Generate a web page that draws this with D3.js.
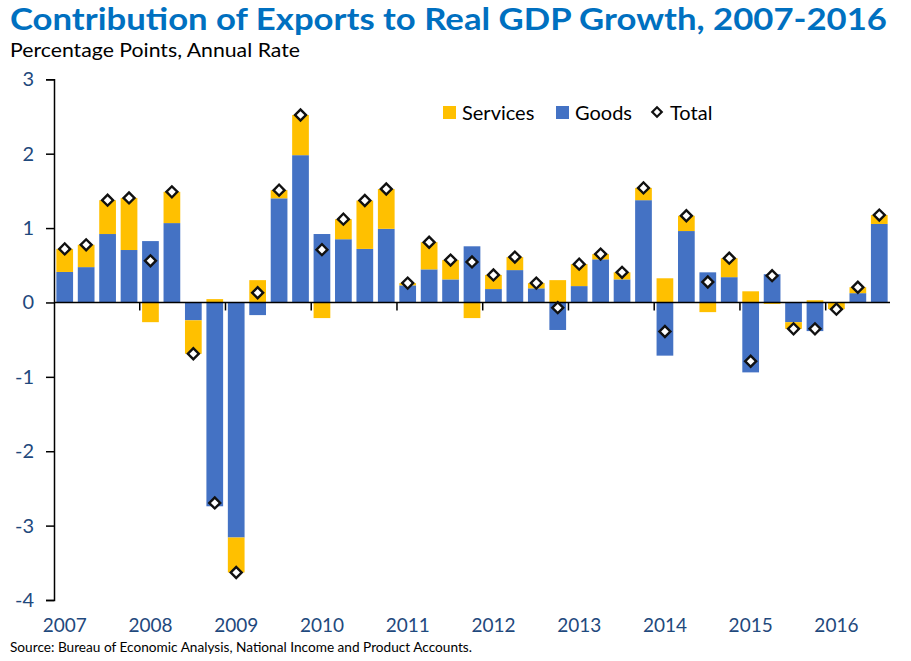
<!DOCTYPE html>
<html><head><meta charset="utf-8">
<script src="https://cdn.jsdelivr.net/npm/d3@7"></script>
<style>body{margin:0;background:#fff}svg{display:block}text{font-family:Lato,"Open Sans",sans-serif}</style>
</head><body><svg id="c" width="911" height="661"></svg>
<script>
const quarters = [];
const years = [2007,2008,2009,2010,2011,2012,2013,2014,2015,2016];
years.forEach(y => [1,2,3,4].forEach(q => { if (!(y === 2016 && q === 4)) quarters.push(y + "Q" + q); }));
const goods = [0.41,0.475,0.92,0.705,0.825,1.067,-0.24,-2.74,-3.16,-0.17,
  1.40,1.98,0.92,0.85,0.72,0.99,0.23,0.445,0.31,0.755,
  0.18,0.435,0.19,-0.37,0.22,0.58,0.31,1.375,-0.715,0.96,
  0.405,0.34,-0.94,0.38,-0.265,-0.385,0.0,0.125,1.055];
const services = [0.31,0.30,0.455,0.70,-0.265,0.42,-0.45,0.045,-0.47,0.30,
  0.11,0.54,-0.21,0.27,0.65,0.535,0.03,0.365,0.26,-0.21,
  0.19,0.175,0.07,0.30,0.295,0.07,0.095,0.165,0.325,0.205,
  -0.13,0.255,0.15,-0.02,-0.09,0.03,-0.09,0.08,0.12];
const yTicks = [3,2,1,0,-1,-2,-3,-4];

const svg = d3.select("#c");
const x = d3.scaleBand().domain(quarters).range([54, 890]).paddingInner(0.22).paddingOuter(0.11);
const y = d3.scaleLinear().domain([-4, 3]).range([600, 79.3]);
const navy = "#1F497D";

// bars
const g = svg.append("g");
quarters.forEach((q, i) => {
  const gv = goods[i], sv = services[i];
  g.append("rect").attr("x", x(q)).attr("width", x.bandwidth())
    .attr("y", y(Math.max(0, gv))).attr("height", Math.abs(y(gv) - y(0))).attr("fill", "#4472C4");
  let base;
  if (sv >= 0) base = gv > 0 ? gv : 0; else base = gv < 0 ? gv : 0;
  const top = base + sv;
  g.append("rect").attr("x", x(q)).attr("width", x.bandwidth())
    .attr("y", y(Math.max(base, top))).attr("height", Math.abs(y(top) - y(base))).attr("fill", "#FFC000");
});

// y axis
const yAxis = d3.axisLeft(y).tickValues(yTicks).tickSize(8).tickFormat(d3.format("d"));
const ya = svg.append("g").attr("transform", "translate(54,0)").call(yAxis);
ya.select(".domain").attr("stroke", "#000").attr("stroke-width", 1.5);
ya.selectAll(".tick line").attr("stroke", "#000").attr("stroke-width", 1.5);
ya.selectAll(".tick text").attr("x", -20).attr("fill", navy).attr("font-size", 20)
  .style("font-family", "Lato, sans-serif").text(d => d < 0 ? "-" + Math.abs(d) : d);

// zero line and year ticks
svg.append("line").attr("x1", 54).attr("x2", 890).attr("y1", y(0)).attr("y2", y(0))
  .attr("stroke", "#000").attr("stroke-width", 1.5);
years.slice(1).forEach(yr => {
  const xx = x(yr + "Q1") - x.step() * x.paddingInner() / 2;
  svg.append("line").attr("x1", xx).attr("x2", xx).attr("y1", y(0)).attr("y2", y(0) + 8)
    .attr("stroke", "#000").attr("stroke-width", 1.5);
});
years.forEach(yr => {
  svg.append("text").attr("x", x(yr + "Q1") + x.bandwidth() / 2).attr("y", 632)
    .attr("text-anchor", "middle").attr("fill", navy).attr("font-size", 19).text(yr);
});

// diamonds (Total)
quarters.forEach((q, i) => {
  const t = goods[i] + services[i];
  svg.append("path").attr("d", d3.symbol(d3.symbolSquare, 60)())
    .attr("transform", `translate(${x(q) + x.bandwidth() / 2},${y(t)}) rotate(45)`)
    .attr("fill", "#fff").attr("stroke", "#111").attr("stroke-width", 2.4);
});

// legend
const lg = svg.append("g");
lg.append("rect").attr("x", 443).attr("y", 106).attr("width", 13).attr("height", 13).attr("fill", "#FFC000");
lg.append("text").attr("x", 462).attr("y", 120).attr("font-size", 20).attr("fill", "#000").text("Services");
lg.append("rect").attr("x", 556).attr("y", 106).attr("width", 13).attr("height", 13).attr("fill", "#4472C4");
lg.append("text").attr("x", 575).attr("y", 120).attr("font-size", 20).attr("fill", "#000").text("Goods");
lg.append("path").attr("d", d3.symbol(d3.symbolSquare, 45)()).attr("transform", "translate(657,112) rotate(45)")
  .attr("fill", "#fff").attr("stroke", "#111").attr("stroke-width", 2.2);
lg.append("text").attr("x", 670).attr("y", 120).attr("font-size", 20).attr("fill", "#000").text("Total");

// titles
svg.append("text").attr("x", 10).attr("y", 30).attr("font-size", 31).attr("font-weight", "bold")
  .attr("fill", "#0070C0").attr("textLength", 877).attr("lengthAdjust", "spacingAndGlyphs")
  .text("Contribution of Exports to Real GDP Growth, 2007-2016");
svg.append("text").attr("x", 10).attr("y", 57).attr("font-size", 19).attr("fill", "#000")
  .attr("textLength", 290).attr("lengthAdjust", "spacingAndGlyphs")
  .text("Percentage Points, Annual Rate");
svg.append("text").attr("x", 10).attr("y", 652).attr("font-size", 13).attr("fill", "#000")
  .attr("textLength", 462).attr("lengthAdjust", "spacingAndGlyphs")
  .text("Source: Bureau of Economic Analysis, National Income and Product Accounts.");
</script></body></html>
